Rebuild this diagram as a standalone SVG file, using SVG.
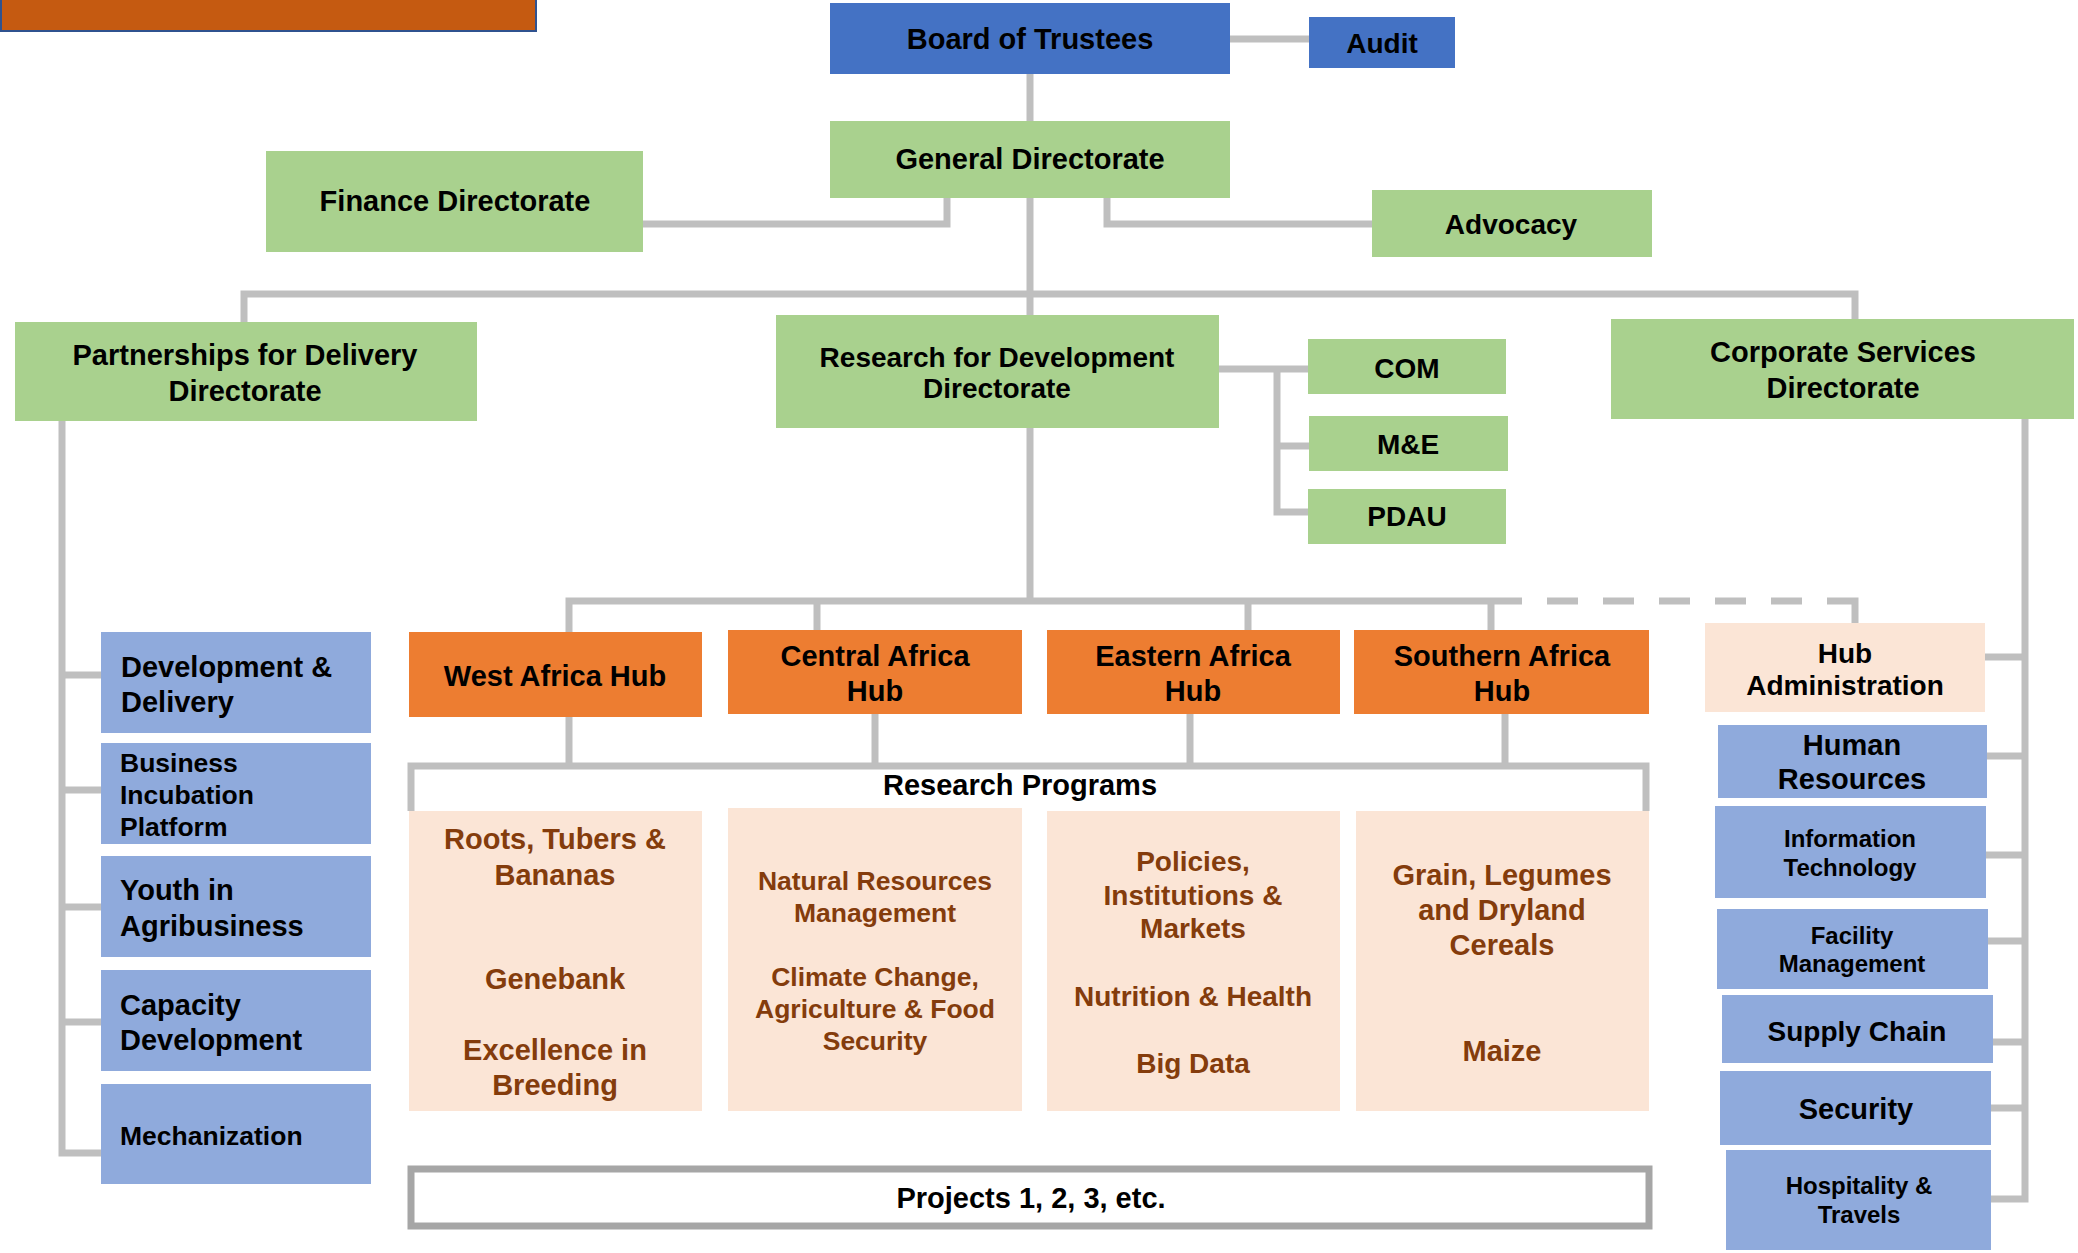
<svg xmlns="http://www.w3.org/2000/svg" width="2078" height="1253" viewBox="0 0 2078 1253">
<style>
text{font-family:"Liberation Sans",Arial,sans-serif;font-weight:bold;fill:#000}
.m{text-anchor:middle}
.br{fill:#843C0C}
.f29{font-size:29px}.f28{font-size:28px}.f26{font-size:26.5px}.f24{font-size:24px}
.g{fill:#A9D18E}.b{fill:#4472C4}.lb{fill:#8FAADC}.o{fill:#ED7D31}.p{fill:#FBE5D6}
.c{fill:none;stroke:#BFBFBF;stroke-width:7}
</style>
<rect width="2078" height="1253" fill="#fff"/>
<g id="title"><rect x="1" y="-5" width="535" height="36" fill="#C55A11" stroke="#2F528F" stroke-width="2"/></g>
<g id="connectors">
<path class="c" d="M1230 39H1309M1030 74V121M643 224H947V197M1107 197V224H1372M1030 198V315"/>
<path class="c" d="M244 322V294H1855V319"/>
<path class="c" d="M1030 427V601M1198 369H1308M1277 369V512H1308M1277 446H1309"/>
<path class="c" d="M569 632V601H1491M817 601V630M1248 601V630M1491 601V630"/>
<path class="c" d="M1491 601H1827" stroke-dasharray="31 25"/>
<path class="c" d="M1827 601H1855V626"/>
<path class="c" d="M569 717V766M875 714V766M1190 714V766M1505 714V766M411 811V766H1646V811"/>
<path class="c" d="M62 421V1153H101M62 675H101M62 790H101M62 907H101M62 1022H101"/>
<path class="c" d="M2025 419V1199H1991M2025 657H1985M2025 756H1987M2025 855H1986M2025 941H1988M2025 1042H1993M2025 1108H1991"/>
</g>
<g id="board"><rect class="b" x="830" y="3" width="400" height="71"/><text class="m f29" x="1030" y="49">Board of Trustees</text></g>
<g id="audit"><rect class="b" x="1309" y="17" width="146" height="51"/><text class="m f28" x="1382" y="53">Audit</text></g>
<g id="general"><rect class="g" x="830" y="121" width="400" height="77"/><text class="m f29" x="1030" y="169">General Directorate</text></g>
<g id="finance"><rect class="g" x="266" y="151" width="377" height="101"/><text class="m f29" x="455" y="211">Finance Directorate</text></g>
<g id="advocacy"><rect class="g" x="1372" y="190" width="280" height="67"/><text class="m f28" x="1511" y="234">Advocacy</text></g>
<g id="partnerships"><rect class="g" x="15" y="322" width="462" height="99"/><text class="m f29" x="245" y="365">Partnerships for Delivery</text><text class="m f29" x="245" y="401">Directorate</text></g>
<g id="research"><rect class="g" x="776" y="315" width="443" height="113"/><text class="m f28" x="997" y="367">Research for Development</text><text class="m f28" x="997" y="398">Directorate</text></g>
<g id="corporate"><rect class="g" x="1611" y="319" width="463" height="100"/><text class="m f29" x="1843" y="362">Corporate Services</text><text class="m f29" x="1843" y="398">Directorate</text></g>
<g id="com"><rect class="g" x="1308" y="339" width="198" height="55"/><text class="m f28" x="1407" y="378">COM</text></g>
<g id="me"><rect class="g" x="1309" y="416" width="199" height="55"/><text class="m f28" x="1408" y="454">M&amp;E</text></g>
<g id="pdau"><rect class="g" x="1308" y="489" width="198" height="55"/><text class="m f28" x="1407" y="526">PDAU</text></g>
<g id="west-hub"><rect class="o" x="409" y="632" width="293" height="85"/><text class="m f29" x="555" y="686">West Africa Hub</text></g>
<g id="central-hub"><rect class="o" x="728" y="630" width="294" height="84"/><text class="m f29" x="875" y="666">Central Africa</text><text class="m f29" x="875" y="701">Hub</text></g>
<g id="eastern-hub"><rect class="o" x="1047" y="630" width="293" height="84"/><text class="m f29" x="1193" y="666">Eastern Africa</text><text class="m f29" x="1193" y="701">Hub</text></g>
<g id="southern-hub"><rect class="o" x="1354" y="630" width="295" height="84"/><text class="m f29" x="1502" y="666">Southern Africa</text><text class="m f29" x="1502" y="701">Hub</text></g>
<g id="research-programs"><text class="m f29" x="1020" y="795">Research Programs</text></g>
<g id="west-programs"><rect class="p" x="409" y="811" width="293" height="300"/>
<text class="m f29 br" x="555" y="849">Roots, Tubers &amp;</text><text class="m f29 br" x="555" y="885">Bananas</text><text class="m f29 br" x="555" y="989">Genebank</text><text class="m f29 br" x="555" y="1060">Excellence in</text><text class="m f29 br" x="555" y="1095">Breeding</text></g>
<g id="central-programs"><rect class="p" x="728" y="808" width="294" height="303"/>
<text class="m f26 br" x="875" y="890">Natural Resources</text><text class="m f26 br" x="875" y="922">Management</text><text class="m f26 br" x="875" y="986">Climate Change,</text><text class="m f26 br" x="875" y="1018">Agriculture &amp; Food</text><text class="m f26 br" x="875" y="1050">Security</text></g>
<g id="eastern-programs"><rect class="p" x="1047" y="811" width="293" height="300"/>
<text class="m f28 br" x="1193" y="871">Policies,</text><text class="m f28 br" x="1193" y="905">Institutions &amp;</text><text class="m f28 br" x="1193" y="938">Markets</text><text class="m f28 br" x="1193" y="1006">Nutrition &amp; Health</text><text class="m f28 br" x="1193" y="1073">Big Data</text></g>
<g id="southern-programs"><rect class="p" x="1356" y="811" width="293" height="300"/>
<text class="m f29 br" x="1502" y="885">Grain, Legumes</text><text class="m f29 br" x="1502" y="920">and Dryland</text><text class="m f29 br" x="1502" y="955">Cereals</text><text class="m f29 br" x="1502" y="1061">Maize</text></g>
<g id="projects"><rect x="411" y="1169" width="1238" height="57" fill="#fff" stroke="#A6A6A6" stroke-width="7"/><text class="m f29" x="1031" y="1208">Projects 1, 2, 3, etc.</text></g>
<g id="dev-delivery"><rect class="lb" x="101" y="632" width="270" height="101"/><text class="f29" x="121" y="677">Development &amp;</text><text class="f29" x="121" y="712">Delivery</text></g>
<g id="business"><rect class="lb" x="101" y="743" width="270" height="101"/><text class="f26" x="120" y="772">Business</text><text class="f26" x="120" y="804">Incubation</text><text class="f26" x="120" y="836">Platform</text></g>
<g id="youth"><rect class="lb" x="101" y="856" width="270" height="101"/><text class="f29" x="120" y="900">Youth in</text><text class="f29" x="120" y="936">Agribusiness</text></g>
<g id="capacity"><rect class="lb" x="101" y="970" width="270" height="101"/><text class="f29" x="120" y="1015">Capacity</text><text class="f29" x="120" y="1050">Development</text></g>
<g id="mechanization"><rect class="lb" x="101" y="1084" width="270" height="100"/><text class="f26" x="120" y="1145">Mechanization</text></g>
<g id="hub-admin"><rect class="p" x="1705" y="623" width="280" height="89"/><text class="m f28" x="1845" y="663">Hub</text><text class="m f28" x="1845" y="695">Administration</text></g>
<g id="hr"><rect class="lb" x="1718" y="725" width="269" height="73"/><text class="m f29" x="1852" y="755">Human</text><text class="m f29" x="1852" y="789">Resources</text></g>
<g id="it"><rect class="lb" x="1715" y="806" width="271" height="92"/><text class="m f24" x="1850" y="847">Information</text><text class="m f24" x="1850" y="876">Technology</text></g>
<g id="facility"><rect class="lb" x="1717" y="909" width="271" height="80"/><text class="m f24" x="1852" y="944">Facility</text><text class="m f24" x="1852" y="972">Management</text></g>
<g id="supply"><rect class="lb" x="1722" y="995" width="271" height="68"/><text class="m f28" x="1857" y="1041">Supply Chain</text></g>
<g id="security"><rect class="lb" x="1720" y="1071" width="271" height="74"/><text class="m f29" x="1856" y="1119">Security</text></g>
<g id="hospitality"><rect class="lb" x="1726" y="1150" width="265" height="100"/><text class="m f24" x="1859" y="1194">Hospitality &amp;</text><text class="m f24" x="1859" y="1223">Travels</text></g>
</svg>
